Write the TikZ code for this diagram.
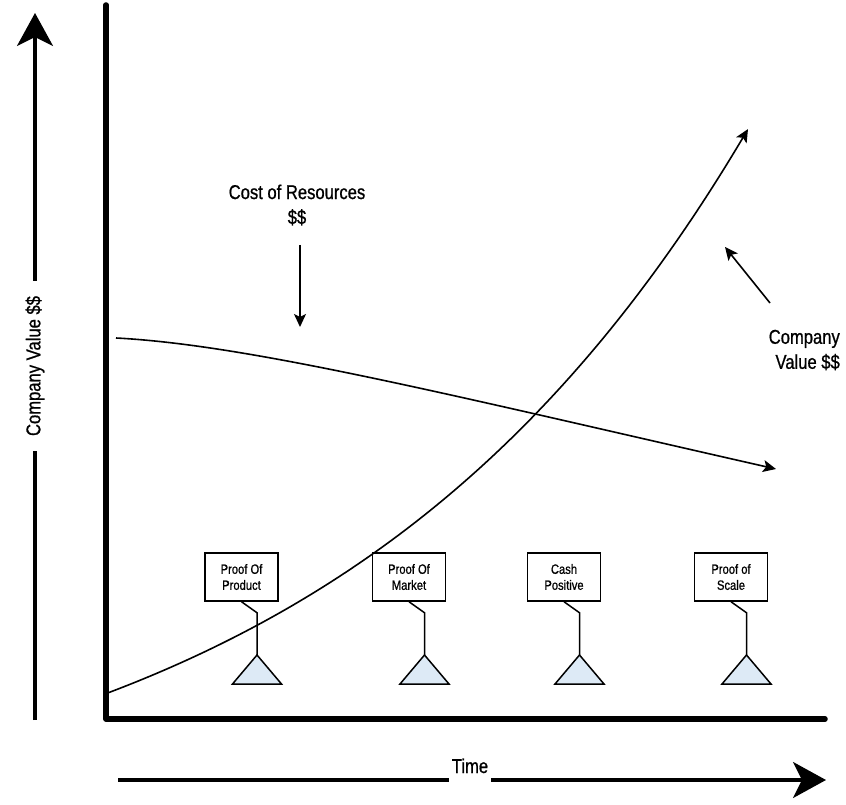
\documentclass[tikz,border=0pt]{standalone}
\usepackage{fontspec}
\setmainfont{Liberation Sans}[FakeStretch=0.83,FakeBold=0.8]
\usepackage{tikz}
\usetikzlibrary{arrows.meta,positioning,calc}
\definecolor{trifill}{HTML}{DDEAF6}

\begin{document}
\begin{tikzpicture}[x=1pt,y=1pt,
    lbl/.style={font=\fontsize{20}{25}\selectfont},
    mbox/.style={draw,line width=1.5pt,minimum width=73pt,minimum height=48pt,align=center,inner sep=0pt,font=\fontsize{13.5}{16}\selectfont},
    stem/.style={line width=1.5pt},
    tri/.style={draw,line width=1.5pt,fill=trifill,line join=miter},
    bigarrow/.style={line width=3.5pt,-{Stealth[length=33pt,width=36pt,inset=9pt]}},
    thinarrow/.style={line width=1.6pt,-{Stealth[length=13pt,width=12pt,inset=3pt]}}]
    \useasboundingbox (0,0) rectangle (846,804);
    % axes
    \draw [line width=5.5pt,line cap=round,line join=round] (106,799) -- (106,85) -- (825,85);
    % vertical label arrow
    \node (ylab) [lbl,rotate=90,inner xsep=15pt] at (35,438) {Company Value \$\$};
    \coordinate (ybot) at (35,84);
    \coordinate (ytop) at (35,791);
    \draw [line width=3.5pt] (ybot) -- (ylab.west);
    \draw [bigarrow] (ylab.east) -- (ytop);
    % time arrow
    \node (tlab) [lbl,anchor=base,inner xsep=3pt] at (470,31) {Time};
    \coordinate (xleft) at (118,24);
    \coordinate (xright) at (826,24);
    \draw [line width=3.5pt] (xleft) -- (xleft -| tlab.west);
    \draw [bigarrow] (xright -| tlab.east) -- (xright);
    % cost of resources
    \node (cost) [lbl,align=center] at (297,599) {Cost of Resources\\\$\$};
    \coordinate (costtop) at (300,559);
    \coordinate (costtip) at (300,477);
    \draw [thinarrow] (costtop) -- (costtip);
    \draw [thinarrow] (116,466) .. controls (250,459) and (450,409) .. (776,335);
    % company value
    \node (val) [lbl,align=right,anchor=east,inner sep=0pt] at (840,454) {Company\\Value \$\$};
    \coordinate (valfoot) at (770,501);
    \coordinate (valtip) at (725,557);
    \draw [thinarrow] (valfoot) -- (valtip);
    \draw [thinarrow] plot[domain=105:748,samples=80,smooth] (\x,{-50+160*exp(0.00235*(\x-105))});
    % milestones
    \node (m1) [mbox] at (241.5,227) {Proof Of\\Product};
    \node (m2) [mbox] at (409,227) {Proof Of\\Market};
    \node (m3) [mbox] at (564,227) {Cash\\Positive};
    \node (m4) [mbox] at (731,227) {Proof of\\Scale};
    \coordinate (t1) at (257,149);
    \coordinate (t2) at (424.5,149);
    \coordinate (t3) at (579.5,149);
    \coordinate (t4) at (746.5,149);
    \draw [stem] (m1.south) -- ++(15.5,-11) -- (t1);
    \draw [stem] (m2.south) -- ++(15.5,-11) -- (t2);
    \draw [stem] (m3.south) -- ++(15.5,-11) -- (t3);
    \draw [stem] (m4.south) -- ++(15.5,-11) -- (t4);
    \draw [tri] (t1) -- ++(-24.5,-29) -- ++(49,0) -- cycle;
    \draw [tri] (t2) -- ++(-24.5,-29) -- ++(49,0) -- cycle;
    \draw [tri] (t3) -- ++(-24.5,-29) -- ++(49,0) -- cycle;
    \draw [tri] (t4) -- ++(-24.5,-29) -- ++(49,0) -- cycle;
\end{tikzpicture}
\end{document}
